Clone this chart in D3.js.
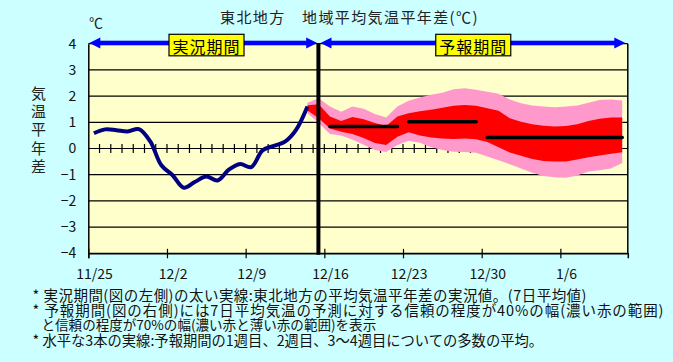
<!DOCTYPE html>
<html><head><meta charset="utf-8">
<script src="https://cdn.jsdelivr.net/npm/d3@7/dist/d3.min.js"></script>
<style>
html,body{margin:0;padding:0;background:#ccffff;}
svg{display:block;}
text{font-family:"Noto Sans CJK JP","Noto Sans",sans-serif;}
</style>
</head><body>
<svg id="chart" width="673" height="362"></svg>
<script>
// ---------------- data ----------------
const titleText = "東北地方　地域平均気温平年差(℃)";
const unitText = "℃";
const yAxisTitle = ["気","温","平","年","差"];
const periodLabels = ["実況期間", "予報期間"];
const dateLabels = ["11/25", "12/2", "12/9", "12/16", "12/23", "12/30", "1/6"];
const dateLabelDays = [0, 7, 14, 21, 28, 35, 42];
const yTicks = [4, 3, 2, 1, 0, -1, -2, -3, -4];
const totalDays = 48;            // 11/25 .. 1/11
const observedStart = 0;         // 11/25
const observed = [0.58, 0.73, 0.70, 0.65, 0.74, 0.28, -0.64, -1.02, -1.50, -1.27,
                  -1.07, -1.22, -0.81, -0.59, -0.71, -0.07, 0.10, 0.26, 0.72, 1.60];
const splitDay = 20;             // boundary between observed and forecast periods
const bandStart = 19;            // 12/14
const pinkTop =    [1.75, 1.92, 1.60, 1.40, 1.60, 1.52, 1.32, 1.18, 1.60, 1.82,
                    1.95, 2.05, 2.13, 2.26, 2.30, 2.24, 2.17, 2.09, 1.87, 1.73,
                    1.64, 1.60, 1.57, 1.60, 1.64, 1.75, 1.85, 1.87, 1.83];
const redTop =     [1.65, 1.69, 1.22, 1.05, 1.20, 1.12, 0.97, 0.86, 1.22, 1.35,
                    1.42, 1.48, 1.56, 1.63, 1.66, 1.63, 1.54, 1.44, 1.15, 1.02,
                    0.93, 0.87, 0.84, 0.86, 0.93, 1.05, 1.14, 1.18, 1.18];
const redBottom =  [1.45, 1.15, 0.76, 0.64, 0.55, 0.40, 0.21, 0.13, 0.45, 0.62,
                    0.50, 0.42, 0.38, 0.36, 0.38, 0.35, 0.25, 0.05, -0.15, -0.28,
                    -0.40, -0.48, -0.50, -0.50, -0.42, -0.33, -0.27, -0.20, -0.14];
const pinkBottom = [1.35, 0.97, 0.55, 0.50, 0.34, 0.14, -0.06, -0.13, 0.13, 0.30,
                    0.22, 0.05, -0.06, -0.12, -0.13, -0.16, -0.31, -0.45, -0.60, -0.76,
                    -0.93, -1.05, -1.10, -1.12, -1.03, -0.88, -0.83, -0.76, -0.55];
const weekStart = [21, 28, 35];
const weekEnd = [27, 34, 47];
const weekMean = [0.84, 1.02, 0.42];
const footnotes = [
  "* 実況期間(図の左側)の太い実線:東北地方の平均気温平年差の実況値。(7日平均値)",
  "* 予報期間(図の右側)には7日平均気温の予測に対する信頼の程度が40%の幅(濃い赤の範囲)",
  "と信頼の程度が70%の幅(濃い赤と薄い赤の範囲)を表示",
  "* 水平な3本の実線:予報期間の1週目、2週目、3～4週目についての多数の平均。"
];

// ---------------- layout ----------------
const L = 88.3, R = 627.8, T = 43.7, B = 253.3;
const svg = d3.select("#chart");
const x = d3.scaleLinear().domain([0, totalDays]).range([L, R]);
const y = d3.scaleLinear().domain([-4, 4]).range([B, T]);
const cx = i => x(i + 0.5);

svg.append("rect").attr("width", 673).attr("height", 362).attr("fill", "#ccffff");
svg.append("rect").attr("x", L).attr("y", T).attr("width", R - L).attr("height", B - T).attr("fill", "#ffffcc");

// grid lines
svg.append("g").selectAll("line").data(yTicks).join("line")
  .attr("x1", L).attr("x2", R).attr("y1", d => y(d)).attr("y2", d => y(d))
  .attr("stroke", "#000").attr("stroke-width", 1.2);

// daily ticks on the zero line
svg.append("g").selectAll("line").data(d3.range(1, totalDays)).join("line")
  .attr("x1", d => x(d)).attr("x2", d => x(d))
  .attr("y1", y(0) - 4.5).attr("y2", y(0) + 4.5)
  .attr("stroke", "#000").attr("stroke-width", 1.2);

// forecast bands
const bandIdx = d3.range(pinkTop.length);
const areaOf = (top, bot) => d3.area()
  .x(i => cx(bandStart + i)).y0(i => y(bot[i])).y1(i => y(top[i]));
svg.append("path").datum(bandIdx).attr("d", areaOf(pinkTop, pinkBottom)).attr("fill", "#ff99cc");
svg.append("path").datum(bandIdx).attr("d", areaOf(redTop, redBottom)).attr("fill", "#ff0000");

// weekly mean lines
svg.append("g").selectAll("line").data(weekMean).join("line")
  .attr("x1", (d, k) => cx(weekStart[k])).attr("x2", (d, k) => cx(weekEnd[k]))
  .attr("y1", d => y(d)).attr("y2", d => y(d))
  .attr("stroke", "#000").attr("stroke-width", 3.6).attr("stroke-linecap", "round");

// observed line
svg.append("path").datum(observed)
  .attr("d", d3.line().x((d, i) => cx(observedStart + i)).y(d => y(d)).curve(d3.curveCatmullRom.alpha(0.5)))
  .attr("fill", "none").attr("stroke", "#000080").attr("stroke-width", 4).attr("stroke-linejoin", "round");

// axes
const yAxis = d3.axisLeft(y).tickValues(yTicks).tickSize(0).tickPadding(12)
  .tickFormat(d => d < 0 ? "\u2212" + Math.abs(d) : String(d));
const gy = svg.append("g").attr("transform", `translate(${L},0)`).call(yAxis);
gy.select(".domain").attr("stroke", "#000").attr("stroke-width", 1.5);
gy.selectAll("text").attr("font-size", 14).attr("fill", "#111").attr("font-family", "Noto Sans CJK JP");

const xTickAxis = d3.axisBottom(x).tickValues(dateLabelDays).tickSize(5).tickFormat("");
const gx = svg.append("g").attr("transform", `translate(0,${B})`).call(xTickAxis);
gx.select(".domain").attr("stroke", "#000").attr("stroke-width", 1.5);
gx.selectAll(".tick line").attr("y1", -4.5).attr("stroke", "#000").attr("stroke-width", 1.2);

const xLabelAxis = d3.axisBottom(x).tickValues(dateLabelDays.map(d => d + 0.5)).tickSize(0).tickPadding(16)
  .tickFormat((d, k) => dateLabels[k]);
const gxl = svg.append("g").attr("transform", `translate(0,${B})`).call(xLabelAxis);
gxl.select(".domain").remove();
gxl.selectAll("text").attr("font-size", 14).attr("fill", "#111").attr("font-family", "Noto Sans CJK JP");

// right border
svg.append("line").attr("x1", R).attr("x2", R).attr("y1", T).attr("y2", B)
  .attr("stroke", "#000").attr("stroke-width", 1.5);

// split line
svg.append("line").attr("x1", x(splitDay + 0.5) - 0.3).attr("x2", x(splitDay + 0.5) - 0.3)
  .attr("y1", T - 0.5).attr("y2", B + 1.5).attr("stroke", "#000").attr("stroke-width", 4);

// period arrows
const ay = 43;
function arrow(x1, x2) {
  const g = svg.append("g").attr("fill", "#0000ff");
  const hl = 11, hh = 5.5;
  g.append("rect").attr("x", x1 + hl - 1).attr("y", ay - 2.3).attr("width", x2 - x1 - 2 * hl + 2).attr("height", 4.6);
  g.append("path").attr("d", d3.line()([[x1, ay], [x1 + hl, ay - hh], [x1 + hl, ay + hh]]) + "Z");
  g.append("path").attr("d", d3.line()([[x2, ay], [x2 - hl, ay - hh], [x2 - hl, ay + hh]]) + "Z");
}
arrow(L + 1, x(splitDay + 0.5) - 1.5);
arrow(x(splitDay + 0.5) + 1.8, R - 2.5);

// period labels
const pCenters = [(L + x(splitDay + 0.5)) / 2, (x(splitDay + 0.5) + R) / 2];
periodLabels.forEach((t, k) => {
  const c = pCenters[k] + (k === 0 ? 3 : 0);
  svg.append("rect").attr("x", c - 37.5).attr("y", 34.3).attr("width", 75).attr("height", 21.5)
    .attr("fill", "#ffff00").attr("stroke", "#000").attr("stroke-width", 1.2);
  svg.append("text").attr("x", c).attr("y", 45.5).attr("text-anchor", "middle")
    .attr("dominant-baseline", "central").attr("font-size", 16).attr("letter-spacing", 1)
    .attr("fill", "#000").text(t);
});

// title & unit
svg.append("text").attr("x", 220).attr("y", 16.5).attr("dominant-baseline", "central")
  .attr("font-size", 15).attr("letter-spacing", 1.4).attr("fill", "#222").text(titleText);
svg.append("text").attr("x", 89).attr("y", 22).attr("dominant-baseline", "central")
  .attr("font-size", 14).attr("fill", "#222").text(unitText);

// y axis title (vertical)
svg.append("g").selectAll("text").data(yAxisTitle).join("text")
  .attr("x", 38.5).attr("y", (d, i) => 92.5 + i * 18.2).attr("text-anchor", "middle")
  .attr("dominant-baseline", "central").attr("font-size", 15).attr("fill", "#222").text(d => d);

// footnotes
const fnX = [32.5, 32.5, 41.5, 32.5];
const fnW = [554, 631, 335, 511];
svg.append("g").selectAll("text").data(footnotes).join("text")
  .attr("x", (d, i) => fnX[i]).attr("y", (d, i) => 294 + i * 15.2)
  .attr("dominant-baseline", "central").attr("font-size", 14.5).attr("fill", "#111")
  .text(d => d)
  .each(function (d, i) {
    const w = this.getComputedTextLength();
    const fs = 14.5;
    if (w > fnW[i]) {
      d3.select(this).attr("font-size", fs * fnW[i] / w);
    } else {
      d3.select(this).attr("textLength", fnW[i]).attr("lengthAdjust", "spacing");
    }
  });
</script>
</body></html>
